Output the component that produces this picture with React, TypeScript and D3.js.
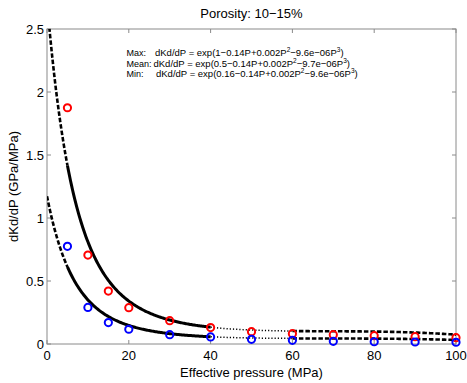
import React from 'react';
import * as d3 from 'd3';

const pressures = [5, 10, 15, 20, 30, 40, 50, 60, 70, 80, 90, 100];
const maxValues = [1.875, 0.706, 0.42, 0.288, 0.185, 0.13, 0.098, 0.082, 0.074, 0.066, 0.058, 0.05];
const minValues = [0.775, 0.29, 0.17, 0.117, 0.074, 0.056, 0.037, 0.029, 0.021, 0.018, 0.016, 0.014];
// fitted coefficients shown in the chart: exp(c0 + c1 P + c2 P^2 + c3 P^3)
const maxCoefs = [1, -0.14, 0.002, -9.6e-6];
const minCoefs = [0.16, -0.14, 0.002, -9.6e-6];
const segStart = [0, 5, 40, 60];
const segEnd = [5, 40, 60, 100];
const segStyle = ['dash', 'solid', 'dot', 'dash'];
const xTicks = [0, 20, 40, 60, 80, 100];
const yTicks = [0, 0.5, 1, 1.5, 2, 2.5];
const eqNames = ['Max:', 'Mean:', 'Min:'];
const eqLabels = ['dKd/dP = exp(1\u22120.14P+0.002P', 'dKd/dP = exp(0.5\u22120.14P+0.002P', 'dKd/dP = exp(0.16\u22120.14P+0.002P'];
const eqMid = ['\u22129.6e\u221206P', '\u22129.7e\u221206P', '\u22129.6e\u221206P'];

const W = 467, H = 383;
const L = 47, R = 456, T = 29, B = 344;
const FONT = '"Liberation Sans", Arial, sans-serif';
const eqX = [155, 153.5, 156];
const eqY = [56, 66.5, 77];

export default function App() {
  const x = d3.scaleLinear().domain([0, 100]).range([L, R]);
  const y = d3.scaleLinear().domain([0, 2.5]).range([B, T]);

  const fitPath = (c: number[], a: number, b: number) => {
    const ps = d3.range(a, b + 0.001, 0.25);
    const gen = d3.line<number>()
      .x(p => x(p))
      .y(p => y(Math.exp(c[0] + c[1] * p + c[2] * p * p + c[3] * p * p * p)));
    return gen(ps) || '';
  };
  const styleOf = (s: string) =>
    s === 'solid' ? { strokeWidth: 3, dash: undefined } :
    s === 'dash' ? { strokeWidth: 2.6, dash: '4.5,2' } :
    { strokeWidth: 1.5, dash: '1.2,2' };

  return (
    <div style={{ position: 'fixed', left: 0, top: 0 }}>
      <svg width={W} height={H} style={{ display: 'block', background: '#fff' }} fontFamily={FONT}>
        <defs>
          <clipPath id="plotclip"><rect x={L} y={T} width={R - L} height={B - T} /></clipPath>
        </defs>
        <rect x={L} y={T} width={R - L} height={B - T} fill="none" stroke="#8a8a8a" strokeWidth={1} />
        {xTicks.map(t => (
          <g key={'x' + t}>
            <line x1={x(t)} x2={x(t)} y1={B} y2={B - 4} stroke="#8a8a8a" />
            <line x1={x(t)} x2={x(t)} y1={T} y2={T + 4} stroke="#8a8a8a" />
            <text x={x(t)} y={B + 15.5} fontSize={13} textAnchor="middle">{t}</text>
          </g>
        ))}
        {yTicks.map(t => (
          <g key={'y' + t}>
            <line x1={L} x2={L + 4} y1={y(t)} y2={y(t)} stroke="#8a8a8a" />
            <line x1={R} x2={R - 4} y1={y(t)} y2={y(t)} stroke="#8a8a8a" />
            <text x={L - 3} y={y(t) + 4.5} fontSize={13} textAnchor="end">{t}</text>
          </g>
        ))}
        <text x={(L + R) / 2} y={377} fontSize={13} textAnchor="middle">Effective pressure (MPa)</text>
        <text transform={`translate(18,${(T + B) / 2}) rotate(-90)`} fontSize={13} textAnchor="middle">dKd/dP (GPa/MPa)</text>
        <text x={(L + R) / 2} y={18} fontSize={13} textAnchor="middle">Porosity: 10{'\u2212'}15%</text>

        <g clipPath="url(#plotclip)">
          {[maxCoefs, minCoefs].map((c, ci) =>
            segStart.map((a, i) => {
              const st = styleOf(segStyle[i]);
              return (
                <path key={ci + '-' + i} d={fitPath(c, a, segEnd[i])} fill="none" stroke="#000"
                  strokeWidth={st.strokeWidth} strokeDasharray={st.dash} />
              );
            })
          )}
        </g>
        {pressures.map((p, i) => (
          <circle key={'r' + p} cx={x(p)} cy={y(maxValues[i])} r={3.6} fill="none" stroke="#ff0000" strokeWidth={2} />
        ))}
        {pressures.map((p, i) => (
          <circle key={'b' + p} cx={x(p)} cy={y(minValues[i])} r={3.6} fill="none" stroke="#0000ff" strokeWidth={2} />
        ))}

        {eqNames.map((n, i) => (
          <text key={'n' + i} x={126.5} y={eqY[i]} fontSize={9}>{n}</text>
        ))}
        {eqLabels.map((s, i) => (
          <text key={'eq' + i} x={eqX[i]} y={eqY[i]} fontSize={9.5}>
            <tspan>{s}</tspan>
            <tspan dy={-4} fontSize={6.5}>2</tspan>
            <tspan dy={4}>{eqMid[i]}</tspan>
            <tspan dy={-4} fontSize={6.5}>3</tspan>
            <tspan dy={4}>)</tspan>
          </text>
        ))}
      </svg>
    </div>
  );
}
